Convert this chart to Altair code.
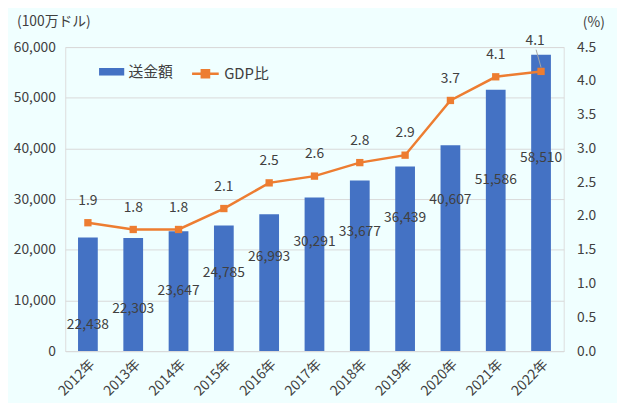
import altair as alt
import pandas as pd

years = ["2012年", "2013年", "2014年", "2015年", "2016年", "2017年",
         "2018年", "2019年", "2020年", "2021年", "2022年"]
remit = [22438, 22303, 23647, 24785, 26993, 30291, 33677, 36439, 40607, 51586, 58510]
gdp = [1.90, 1.80, 1.80, 2.11, 2.49, 2.59, 2.79, 2.90, 3.71, 4.06, 4.14]
# anchor (in 100万ドル units) where each remittance label sits
remit_label_anchor = [5070, 8380, 11880, 15390, 18500, 21430, 23570, 26300, 29800, 33700, 38000]

BLUE = "#4472C4"
ORANGE = "#ED7D31"
TXT = "#404040"
FONT = "Noto Sans CJK JP"

df = pd.DataFrame({
    "year": years,
    "remit": remit,
    "gdp": gdp,
    "anchor": remit_label_anchor,
    "s1": ["送金額"] * len(years),
    "s2": ["GDP比"] * len(years),
})
df["last"] = df["year"] == years[-1]

x = alt.X("year:N", sort=years, title=None,
          scale=alt.Scale(paddingInner=0.0, paddingOuter=0.0),
          axis=alt.Axis(labelAngle=-45, ticks=False, domainColor="#D9D9D9",
                        labelFontSize=14, labelColor=TXT, labelPadding=6, grid=False))

yleft_scale = alt.Scale(domain=[0, 60000], nice=False)
yleft_axis = alt.Axis(values=list(range(0, 60001, 10000)), format=",.0f", grid=True,
                      gridColor="#D9D9D9", domain=False, ticks=False,
                      labelFontSize=14, labelColor=TXT, labelPadding=10,
                      title="(100万ドル)", titleAngle=0, titleAlign="center",
                      titleBaseline="middle", titleX=-12, titleY=-26,
                      titleFontSize=14, titleFontWeight="normal", titleColor=TXT)

bars = alt.Chart(df).mark_bar(size=20).encode(
    x=x,
    y=alt.Y("remit:Q", scale=yleft_scale, axis=yleft_axis),
    fill=alt.Fill("s1:N", scale=alt.Scale(range=[BLUE]),
                  legend=alt.Legend(title=None, orient="none", legendX=34, legendY=12,
                                    symbolType="M-1,-0.3L1,-0.3L1,0.3L-1,0.3Z",
                                    symbolSize=650, symbolStrokeWidth=0,
                                    labelFontSize=15, labelColor=TXT, labelFont=FONT)),
)

bar_labels = alt.Chart(df).mark_text(fontSize=14, color=TXT, font=FONT).encode(
    x=x,
    y=alt.Y("anchor:Q", scale=yleft_scale, axis=yleft_axis),
    text=alt.Text("remit:Q", format=",.0f"),
)

left = alt.layer(bars, bar_labels)

yright_scale = alt.Scale(domain=[0, 4.5], nice=False)
yright_axis = alt.Axis(orient="right", values=[i * 0.5 for i in range(10)], format=".1f",
                       grid=False, domain=False, ticks=False,
                       labelFontSize=14, labelColor=TXT, labelPadding=13,
                       title="(%)", titleAngle=0, titleAlign="center",
                       titleBaseline="middle", titleX=30, titleY=-25,
                       titleFontSize=14, titleFontWeight="normal", titleColor=TXT)

line = alt.Chart(df).mark_line(strokeWidth=2.5).encode(
    x=x,
    y=alt.Y("gdp:Q", scale=yright_scale, axis=yright_axis),
    stroke=alt.Stroke("s2:N", scale=alt.Scale(range=[ORANGE]),
                      legend=alt.Legend(title=None, orient="none", legendX=127, legendY=12,
                                        symbolType="M-1,0L1,0M-0.27,-0.27L0.27,-0.27L0.27,0.27L-0.27,0.27Z",
                                        symbolSize=729, symbolStrokeWidth=2.5,
                                        symbolFillColor=ORANGE,
                                        labelFontSize=15, labelColor=TXT, labelFont=FONT)),
)

points = alt.Chart(df).mark_point(shape="square", size=55, filled=True, color=ORANGE, opacity=1).encode(
    x=x,
    y=alt.Y("gdp:Q", scale=yright_scale, axis=yright_axis),
)

gdp_labels = alt.Chart(df).transform_filter("!datum.last").mark_text(
    fontSize=14, color=TXT, font=FONT, dy=-22).encode(
    x=x,
    y=alt.Y("gdp:Q", scale=yright_scale, axis=yright_axis),
    text=alt.Text("gdp:Q", format=".1f"),
)

gdp_last_label = alt.Chart(df).transform_filter("datum.last").mark_text(
    fontSize=14, color=TXT, font=FONT, dy=-31, dx=-6).encode(
    x=x,
    y=alt.Y("gdp:Q", scale=yright_scale, axis=yright_axis),
    text=alt.Text("gdp:Q", format=".1f"),
)

leader = alt.Chart(df).transform_filter("datum.last").mark_rule(
    color="#A6A6A6", strokeWidth=1, xOffset=-5, yOffset=-22, x2Offset=0, y2Offset=-4).encode(
    x=x,
    x2=alt.X2("year:N"),
    y=alt.Y("gdp:Q", scale=yright_scale, axis=yright_axis),
    y2=alt.Y2("gdp:Q"),
)

right = alt.layer(line, points, leader, gdp_labels, gdp_last_label)

chart = alt.layer(left, right).resolve_scale(
    y="independent", fill="independent", stroke="independent"
).properties(
    width=505, height=308,
    padding={"left": 58, "top": 37, "right": 54, "bottom": 50},
    autosize="none",
    background="#F0FFFF",
).configure_view(stroke=None).configure(font=FONT)

chart.save("out.html", embed_options={"renderer": "svg", "actions": False})
